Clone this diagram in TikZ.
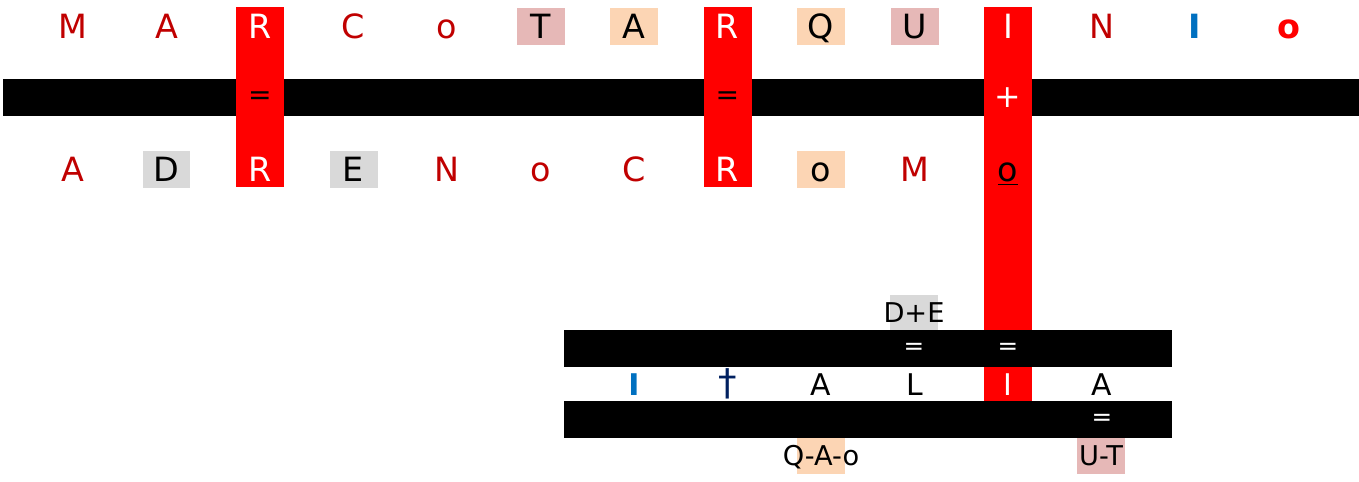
\documentclass[tikz,border=0pt]{standalone}
\usepackage{fontspec}
\setmainfont{DejaVu Sans}
\definecolor{darkred}{HTML}{C00000}
\definecolor{rosebox}{HTML}{E6B8B7}
\definecolor{peachbox}{HTML}{FCD5B4}
\definecolor{greybox}{HTML}{D9D9D9}
\definecolor{blueI}{HTML}{0070C0}
\definecolor{navy}{HTML}{002060}
\begin{document}
\begin{tikzpicture}[x=0.02cm,y=-0.02cm]
    % Define style for cell
    \tikzstyle{cell} = [inner sep=0pt, minimum width=.96cm, minimum height=.74cm, text height=13.9pt, text depth=0pt, font=\fontsize{19}{21}\selectfont]
    \tikzstyle{lowcell} = [inner sep=0pt, minimum width=.96cm, minimum height=.7cm, text height=12.4pt, text depth=0pt, font=\fontsize{17}{19}\selectfont]
    \tikzstyle{smallcell} = [inner sep=0pt, minimum width=.96cm, minimum height=.71cm, text height=11.3pt, text depth=0pt, font=\fontsize{15.5}{17}\selectfont]
    \tikzstyle{sign} = [inner sep=0pt, font=\fontsize{16}{18}\selectfont]
    \tikzstyle{lowsign} = [inner sep=0pt, text=white, font=\fontsize{14}{16}\selectfont]
    \tikzstyle{plain} = [text=darkred]
    \tikzstyle{onred} = [text=white]
    \tikzstyle{rose} = [fill=rosebox, text=black]
    \tikzstyle{peach} = [fill=peachbox, text=black]
    \tikzstyle{grey} = [fill=greybox, text=black]

    \useasboundingbox (0,0) rectangle (1359,481);

    % Draw the bars
    \fill[black] (3,79) rectangle (1359,116);
    \fill[red] (236,7) rectangle (284,187);
    \fill[red] (704,7) rectangle (752,187);
    \fill[red] (984,7) rectangle (1032,401);
    \fill[black] (564,330) rectangle (1172,367);
    \fill[black] (564,401) rectangle (1172,438);

    % Top row
    \foreach \col/\txt/\sty in {1/M/plain,2/A/plain,3/R/onred,4/C/plain,5/o/plain,6/T/rose,7/A/peach,
        8/R/onred,9/Q/peach,10/U/rose,11/I/onred,12/N/plain,13/\textcolor{blueI}{\bfseries I}/plain,14/\textcolor{red}{\bfseries o}/plain} {
        \node(top\col)[cell,\sty] at (93.5*\col-20.5,26) {\txt};
      }

    % Bottom row
    \foreach \col/\txt/\sty in {1/A/plain,2/D/grey,3/R/onred,4/E/grey,5/N/plain,6/o/plain,7/C/plain,
        8/R/onred,9/o/peach,10/M/plain,11/\textcolor{black}{\underline{o}}/onred} {
        \node(bot\col)[cell,\sty] at (93.5*\col-20.5,169) {\txt};
      }

    % Signs on the top bar
    \node(sign3)[sign,text=black] at (top3|-0,98) {=};
    \node(sign8)[sign,text=black] at (top8|-0,98) {=};
    \node(sign11)[sign,text=white,font=\fontsize{18}{20}\selectfont] at (top11|-0,98) {+};

    % Lower table
    \node(de)[smallcell,grey] at (914,312.5) {\makebox[0pt]{D+E}};
    \node(eqde)[lowsign] at (914,349) {=};
    \node(eqi)[lowsign] at (1008,349) {=};
    \foreach \col/\txt in {7/\textcolor{blueI}{\bfseries I},8/\textcolor{navy}{\fontsize{21}{22}\selectfont\dag},9/A,10/L,11/\textcolor{white}{I},12/A} {
        \node(low\col)[lowcell] at (93.5*\col-20.5,385) {\txt};
      }
    \node(eqa)[lowsign] at (1102,420) {=};
    \node(qao)[smallcell,peach] at (821,456) {\makebox[0pt]{Q-A-o}};
    \node(ut)[smallcell,rose] at (1101,456) {\makebox[0pt]{U-T}};
  \end{tikzpicture}
\end{document}
